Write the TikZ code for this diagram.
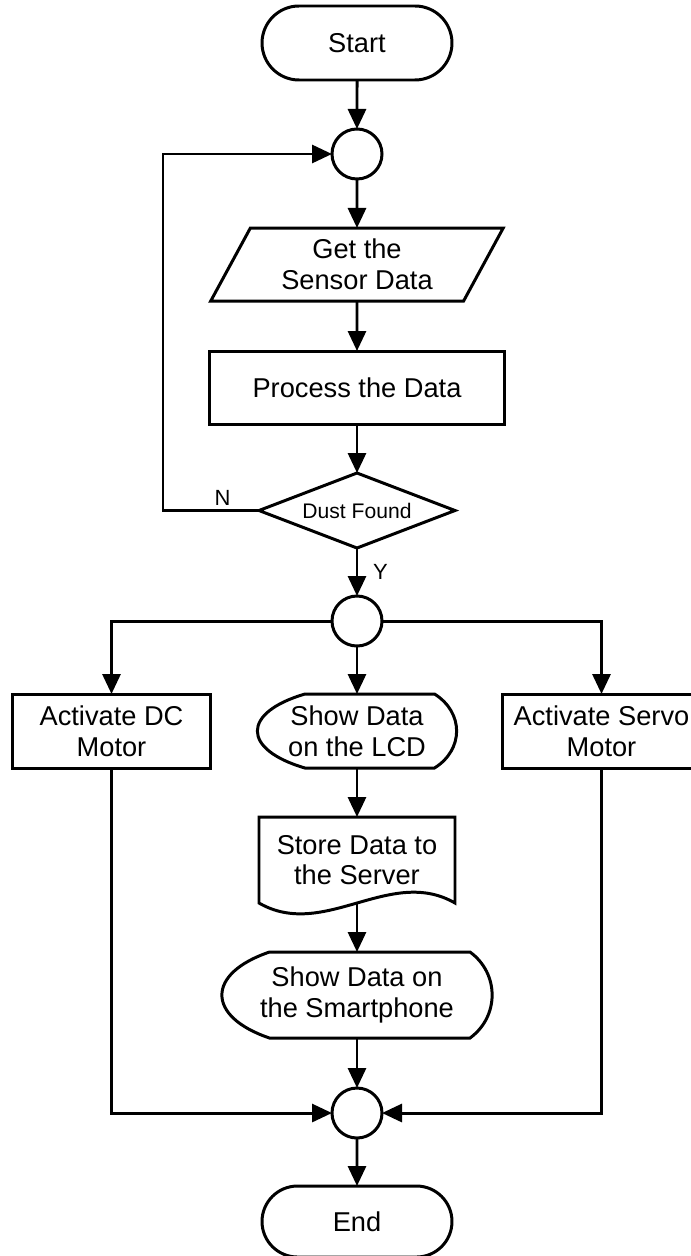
\documentclass[tikz,border=0pt]{standalone}
\usepackage{fontspec}
\setmainfont{Liberation Sans}
\usepackage{tikz}
\usetikzlibrary{positioning,calc,arrows.meta,shapes.geometric,shapes.misc}

\tikzset{
  base/.style={draw,line width=1.7pt,align=center,inner sep=2pt,outer sep=0pt,
    font=\fontsize{15.5}{17.5}\selectfont},
  term/.style={base,rounded rectangle,minimum width=3.94cm,minimum height=1.48cm},
  junc/.style={draw,line width=1.7pt,circle,minimum size=1cm,inner sep=0pt,outer sep=0pt},
  io/.style={base,trapezium,trapezium left angle=63,trapezium right angle=117,
    trapezium stretches=true,minimum width=5.86cm,minimum height=1.46cm},
  proc/.style={base,rectangle,minimum width=3.96cm,minimum height=1.48cm},
  decide/.style={base,diamond,aspect=2.6,inner sep=0pt,minimum width=3.92cm,
    minimum height=1.5cm,font=\fontsize{12}{14}\selectfont},
  disp/.style={base,draw=none,minimum width=3.98cm,minimum height=1.48cm},
  docu/.style={base,draw=none,minimum width=3.92cm,minimum height=1.72cm},
  lbl/.style={font=\fontsize{12.5}{14}\selectfont,inner sep=2pt},
  arr/.style={line width=1.7pt,-{Triangle[length=0.4cm,width=0.36cm]}},
}

% outline of a display node
\newcommand{\dispoutline}[1]{%
  \draw[line width=1.7pt] ([xshift=0.95cm]#1.north west) -- ([xshift=-0.44cm]#1.north east)
    .. controls ($(#1.north east)!0.25!(#1.south east)+(0.15cm,0)$)
    and ($(#1.north east)!0.75!(#1.south east)+(0.15cm,0)$) .. ([xshift=-0.44cm]#1.south east)
    -- ([xshift=0.95cm]#1.south west)
    .. controls ($(#1.north west)!0.75!(#1.south west)+(-0.32cm,0)$)
    and ($(#1.north west)!0.25!(#1.south west)+(-0.32cm,0)$) .. cycle;}
% outline of a document node, wavy bottom
\newcommand{\docoutline}[1]{%
  \draw[line width=1.7pt] (#1.south west) -- (#1.north west) -- (#1.north east) -- (#1.south east)
    .. controls ([xshift=-1.3cm,yshift=0.75cm]#1.south east)
    and ([xshift=1.3cm,yshift=-0.75cm]#1.south west) .. cycle;}

\begin{document}
\begin{tikzpicture}
      \useasboundingbox (-7.14cm,0.86cm) rectangle (6.66cm,-24.26cm);
      \node[term](start){Start};
      \node[junc,below=0.98cm of start](j1){};
      \node[io,below=0.98cm of j1](get){Get the\\Sensor Data};
      \node[proc,minimum width=5.9cm,minimum height=1.46cm,below=1cm of get](work){Process the Data};
      \node[decide,below=0.98cm of work](dust){Dust Found};
      \node[junc,below=0.96cm of dust](j2){};
      \node[disp,below=0.96cm of j2](lcd){Show Data\\on the LCD};
      \node[proc,left=0.94cm of lcd](dc){Activate DC\\Motor};
      \node[proc,right=0.92cm of lcd](servo){Activate Servo\\Motor};
      \node[docu,below=0.98cm of lcd](store){Store Data to\\the Server};
      \node[disp,minimum width=5.4cm,minimum height=1.72cm,below=0.98cm of store](phone){Show Data on\\the Smartphone};
      \node[junc,below=1cm of phone](j3){};
      \node[term,minimum height=1.42cm,below=0.96cm of j3](stop){End};
      \dispoutline{lcd}
      \dispoutline{phone}
      \docoutline{store}
      \path[arr]
        (start) edge (j1)
        (j1) edge (get)
        (get) edge (work)
        (work) edge (dust)
        (dust) edge node[lbl,right=0.22cm]{Y} (j2)
        (j2) edge (lcd)
        (lcd) edge (store)
        (store) edge (phone)
        (phone) edge (j3)
        (j3) edge (stop)
      ;
      \draw[arr] (dust.west) -- ++(-1.92cm,0) node[lbl,pos=0.38,above]{N} |- (j1);
      \draw[arr] (j2) -| (dc);
      \draw[arr] (j2) -| (servo);
      \draw[arr] (dc) |- (j3);
      \draw[arr] (servo) |- (j3);
    \end{tikzpicture}
\end{document}
